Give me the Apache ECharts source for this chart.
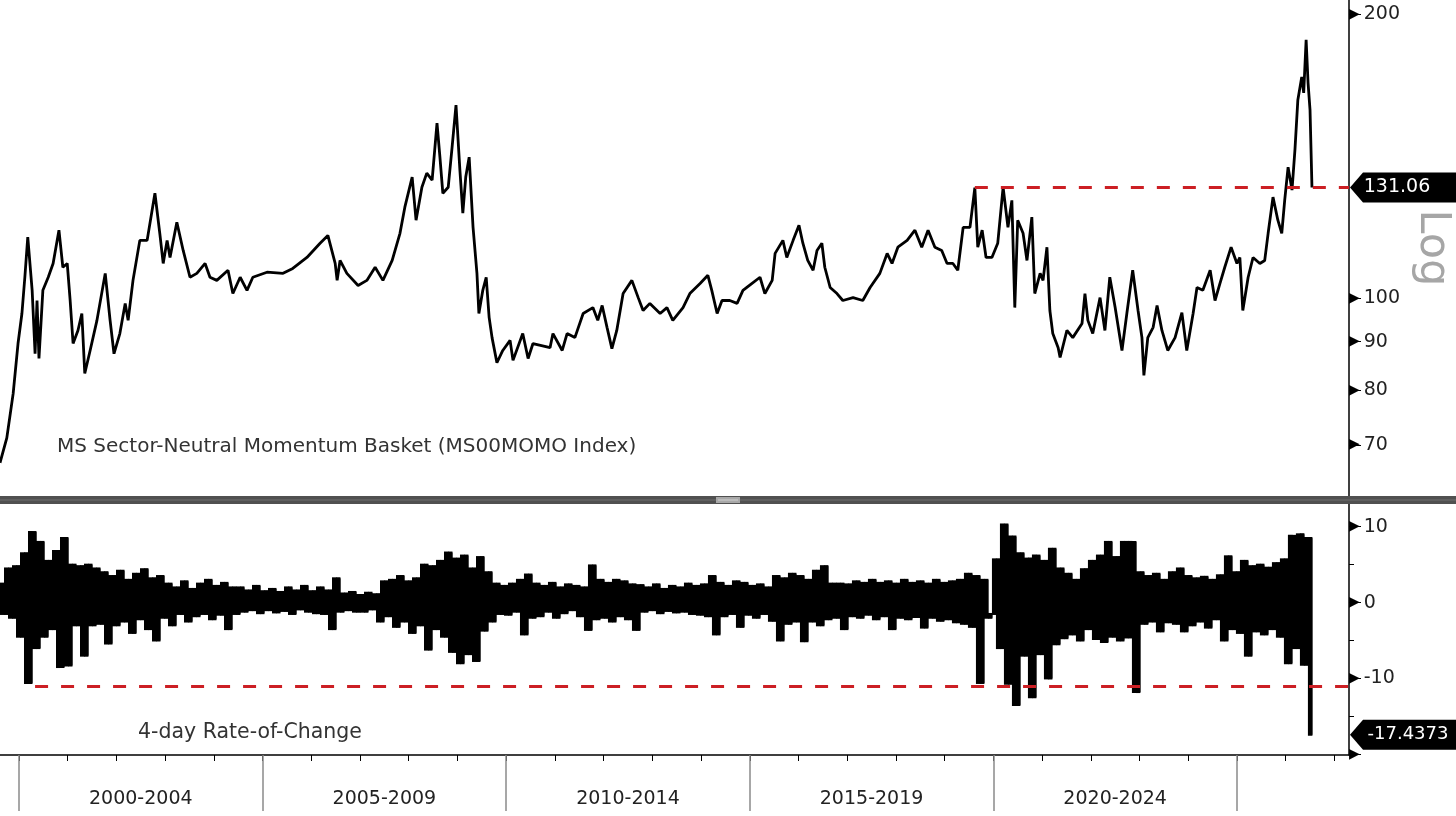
<!DOCTYPE html>
<html>
<head>
<meta charset="utf-8">
<script src="https://cdn.jsdelivr.net/npm/echarts@6/dist/echarts.min.js"></script>
<style>
  html, body { margin: 0; padding: 0; background: #fff; }
  #chart { width: 1456px; height: 816px; }
</style>
</head>
<body>
<div id="chart"></div>
<script>
// MS Sector-Neutral Momentum Basket, level (log scale)
var priceDates = [
    1999.61, 1999.75, 1999.88, 1999.98, 2000.06, 2000.12, 2000.18, 2000.27, 2000.33, 2000.37,
    2000.41, 2000.49, 2000.60, 2000.70, 2000.82, 2000.90, 2000.99, 2001.05, 2001.11, 2001.21,
    2001.29, 2001.35, 2001.46, 2001.60, 2001.77, 2001.87, 2001.95, 2002.07, 2002.18, 2002.24,
    2002.34, 2002.48, 2002.63, 2002.79, 2002.89, 2002.96, 2003.04, 2003.10, 2003.24, 2003.37,
    2003.51, 2003.65, 2003.82, 2003.92, 2004.06, 2004.29, 2004.39, 2004.54, 2004.68, 2004.80,
    2005.09, 2005.42, 2005.62, 2005.91, 2006.18, 2006.34, 2006.49, 2006.53, 2006.59, 2006.73,
    2006.96, 2007.14, 2007.31, 2007.47, 2007.66, 2007.82, 2007.92, 2008.07, 2008.15, 2008.27,
    2008.37, 2008.48, 2008.58, 2008.64, 2008.70, 2008.81, 2008.89, 2008.97, 2009.05, 2009.11,
    2009.17, 2009.24, 2009.32, 2009.40, 2009.44, 2009.52, 2009.59, 2009.65, 2009.71, 2009.81,
    2009.93, 2010.08, 2010.14, 2010.34, 2010.45, 2010.55, 2010.90, 2010.96, 2011.15, 2011.25,
    2011.41, 2011.58, 2011.78, 2011.88, 2011.97, 2012.07, 2012.17, 2012.27, 2012.40, 2012.58,
    2012.71, 2012.81, 2012.95, 2013.16, 2013.30, 2013.42, 2013.63, 2013.77, 2013.98, 2014.14,
    2014.22, 2014.33, 2014.43, 2014.59, 2014.74, 2014.86, 2015.04, 2015.21, 2015.31, 2015.46,
    2015.52, 2015.68, 2015.76, 2015.89, 2016.01, 2016.09, 2016.19, 2016.30, 2016.38, 2016.48,
    2016.54, 2016.65, 2016.79, 2016.91, 2017.12, 2017.32, 2017.47, 2017.67, 2017.82, 2017.92,
    2018.04, 2018.23, 2018.39, 2018.53, 2018.66, 2018.80, 2018.94, 2019.05, 2019.17, 2019.27,
    2019.38, 2019.52, 2019.62, 2019.68, 2019.77, 2019.85, 2019.97, 2020.09, 2020.20, 2020.30,
    2020.38, 2020.44, 2020.50, 2020.61, 2020.69, 2020.79, 2020.85, 2020.96, 2021.02, 2021.10,
    2021.16, 2021.22, 2021.33, 2021.37, 2021.51, 2021.63, 2021.82, 2021.88, 2021.94, 2022.04,
    2022.19, 2022.29, 2022.39, 2022.50, 2022.64, 2022.74, 2022.86, 2022.97, 2023.05, 2023.09,
    2023.17, 2023.28, 2023.36, 2023.46, 2023.58, 2023.73, 2023.87, 2023.97, 2024.10, 2024.18,
    2024.30, 2024.45, 2024.55, 2024.65, 2024.75, 2024.88, 2025.00, 2025.06, 2025.12, 2025.23,
    2025.33, 2025.47, 2025.57, 2025.64, 2025.74, 2025.84, 2025.92, 2025.98, 2026.05, 2026.13,
    2026.19, 2026.25, 2026.33, 2026.37, 2026.42, 2026.46, 2026.50, 2026.54
];
var priceValues = [
    67.0, 71.2, 79.3, 89.6, 96.4, 105.3, 116.1, 102.0, 87.4, 99.5,
    86.4, 102.0, 105.3, 108.9, 118.1, 107.9, 108.9, 99.5, 89.6, 92.5,
    96.4, 83.3, 88.1, 94.8, 106.3, 94.8, 87.4, 91.8, 98.8, 94.8,
    104.5, 115.2, 115.2, 129.2, 117.2, 108.9, 115.2, 110.5, 120.4, 112.4,
    105.3, 106.3, 108.9, 105.3, 104.5, 107.1, 101.2, 105.3, 102.0, 105.3,
    106.6, 106.3, 107.6, 110.5, 114.4, 116.6, 108.9, 104.5, 109.7, 106.3,
    103.2, 104.5, 107.9, 104.5, 109.7, 117.2, 124.9, 134.4, 121.0, 131.1,
    135.7, 133.4, 153.3, 141.1, 129.2, 131.1, 144.6, 160.2, 136.7, 123.1,
    134.4, 141.1, 118.9, 106.3, 96.4, 102.0, 105.3, 95.5, 90.9, 85.5,
    88.1, 90.3, 86.0, 91.8, 86.4, 89.6, 88.7, 91.8, 88.1, 91.8,
    90.9, 96.4, 97.8, 94.8, 98.3, 93.2, 88.5, 92.5, 101.2, 104.5,
    100.2, 97.1, 98.8, 96.4, 97.8, 94.8, 97.8, 101.2, 103.7, 105.8,
    102.0, 96.4, 99.5, 99.5, 98.8, 102.0, 103.7, 105.3, 101.2, 104.5,
    111.6, 115.2, 110.5, 115.2, 119.5, 114.4, 109.7, 107.1, 112.4, 114.4,
    107.9, 102.7, 101.2, 99.5, 100.2, 99.5, 102.7, 106.3, 111.6, 108.9,
    113.3, 115.2, 118.1, 113.3, 118.1, 113.3, 112.4, 108.9, 108.9, 107.1,
    118.9, 118.9, 131.0, 113.3, 118.1, 110.5, 110.5, 114.4, 131.1, 118.9,
    127.0, 97.8, 121.0, 117.2, 109.7, 121.9, 101.2, 106.3, 104.5, 113.3,
    97.1, 91.8, 88.7, 86.6, 92.5, 90.9, 94.1, 101.2, 94.8, 91.8,
    100.2, 92.5, 105.3, 97.8, 88.1, 96.4, 107.1, 97.1, 90.9, 82.9,
    90.9, 93.2, 98.3, 92.5, 88.1, 90.9, 96.6, 88.1, 96.4, 102.7,
    102.0, 107.1, 99.5, 103.7, 107.9, 113.3, 108.9, 110.5, 97.1, 105.3,
    110.5, 108.9, 109.7, 117.2, 128.0, 121.0, 117.2, 127.0, 137.7, 130.2,
    143.5, 162.2, 171.5, 165.0, 187.8, 169.0, 158.3, 131.06
];

// 4-day rate of change, one reading every ~0.08 years
var rocStart = 1999.61;
var rocStep = 0.0821;
var rocValues = [
    2.5, -1.5, 4.5, -2.0, 4.8, -4.5, 6.5, -10.6, 9.3, -6.0,
    8.0, -4.5, 5.5, -3.5, 6.8, -8.5, 8.5, -8.3, 5.0, -3.0,
    4.8, -7.0, 5.0, -3.0, 4.5, -2.8, 4.0, -5.4, 3.5, -3.0,
    4.2, -2.5, 3.0, -4.0, 3.8, -2.2, 4.4, -3.5, 3.2, -5.0,
    3.5, -2.0, 2.5, -3.0, 2.0, -1.5, 2.8, -2.5, 1.8, -1.8,
    2.5, -1.5, 3.0, -2.2, 2.2, -1.6, 2.6, -3.5, 2.0, -1.5,
    2.0, -1.2, 1.6, -1.0, 2.2, -1.4, 1.5, -1.0, 1.8, -1.3,
    1.4, -1.1, 2.0, -1.5, 1.6, -0.9, 2.2, -1.2, 1.5, -1.4,
    2.0, -1.5, 1.6, -3.5, 3.2, -1.2, 1.2, -1.0, 1.4, -1.2,
    1.0, -1.2, 1.3, -0.9, 1.1, -2.5, 2.8, -1.8, 3.0, -3.2,
    3.5, -2.5, 2.8, -4.0, 3.2, -3.0, 5.0, -6.2, 4.8, -3.5,
    5.5, -4.5, 6.6, -6.5, 5.8, -8.0, 6.2, -6.8, 4.5, -7.7,
    6.0, -3.7, 4.0, -2.5, 2.5, -1.5, 2.2, -1.6, 2.5, -1.2,
    3.0, -4.2, 3.7, -2.0, 2.5, -1.8, 2.2, -1.2, 2.6, -2.0,
    2.0, -1.4, 2.4, -1.0, 2.2, -1.8, 2.0, -3.6, 4.9, -2.2,
    3.0, -2.0, 2.6, -2.5, 3.0, -1.8, 2.8, -2.2, 2.4, -3.6,
    2.3, -1.2, 2.0, -1.0, 2.4, -1.4, 1.8, -1.1, 2.2, -1.3,
    2.0, -1.2, 2.5, -1.5, 2.2, -1.6, 2.4, -1.8, 3.5, -4.2,
    2.6, -1.8, 2.2, -1.5, 2.8, -3.2, 2.6, -1.6, 2.2, -2.0,
    2.4, -1.5, 2.0, -2.4, 3.5, -5.0, 3.2, -2.8, 3.8, -2.5,
    3.5, -5.1, 3.0, -2.5, 4.2, -3.0, 4.8, -2.2, 2.5, -2.0,
    2.5, -3.5, 2.4, -1.8, 2.8, -2.0, 2.6, -1.6, 3.0, -2.2,
    2.6, -1.8, 2.8, -3.5, 2.5, -2.0, 3.0, -2.2, 2.6, -1.9,
    2.8, -3.3, 2.5, -2.0, 3.0, -2.4, 2.6, -2.2, 2.8, -2.6,
    3.0, -2.8, 3.8, -3.2, 3.5, -10.6, 3.0, -2.0, -1.5, 5.7,
    -6.0, 10.3, -10.7, 8.7, -13.5, 6.5, -7.0, 5.8, -12.5, 6.2,
    -6.8, 5.5, -10.0, 7.1, -5.5, 4.5, -4.7, 3.8, -4.2, 3.0,
    -5.0, 4.4, -3.5, 5.5, -4.8, 6.2, -5.2, 8.0, -4.5, 6.0,
    -5.0, 8.0, -4.6, 8.0, -11.8, 4.0, -2.8, 3.5, -2.5, 3.8,
    -3.8, 3.0, -2.6, 4.0, -2.8, 4.5, -3.8, 3.5, -3.0, 3.2,
    -2.5, 3.4, -3.3, 3.0, -2.2, 3.6, -5.0, 6.1, -3.5, 4.0,
    -4.0, 5.5, -7.0, 4.8, -3.8, 5.0, -4.2, 4.6, -3.5, 5.2,
    -4.5, 5.7, -8.0, 8.8, -6.0, 9.0, -8.2, 8.5, -17.4373
];

// reference lines and last values
var priceLevel = 131.06, priceLevelFrom = 2019.62;
var rocLevel = -11.0, rocLevelFrom = 2000.33;
var rocLast = -17.4373;

// axes
var xMin = 1999.61, xMax = 2027.30;
var yearTicks = [2000, 2001, 2002, 2003, 2004, 2005, 2006, 2007, 2008, 2009, 2010, 2011, 2012, 2013,
                 2014, 2015, 2016, 2017, 2018, 2019, 2020, 2021, 2022, 2023, 2024, 2025, 2026, 2027];
var periodBreaks = [2000, 2005, 2010, 2015, 2020, 2025];
var periodCenters = [2002.5, 2007.5, 2012.5, 2017.5, 2022.5];
var periodLabels = ['2000-2004', '2005-2009', '2010-2014', '2015-2019', '2020-2024'];
var priceTicks = [200, 100, 90, 80, 70];
var rocTicks = [10, 0, -10, -20];
var rocMinorTicks = [5, -5, -15];

var FONT = 'DejaVu Sans';
var RED = '#cc1f24';

var pricePoints = [];
for (var i = 0; i < priceDates.length; i++) {
    pricePoints.push([priceDates[i], priceValues[i]]);
}
var rocPoints = [];
for (var j = 0; j < rocValues.length; j++) {
    rocPoints.push([+(rocStart + j * rocStep).toFixed(4), rocValues[j]]);
}
// span the line covers between one reading and the next: [date, low, high]
var rocSpans = [];
for (var s = 0; s < rocPoints.length - 1; s++) {
    var a = rocPoints[s][1], b = rocPoints[s + 1][1];
    rocSpans.push([rocPoints[s][0], Math.min(a, b), Math.max(a, b)]);
}

var tickRich = {
    t: {fontSize: 14, color: '#000', fontFamily: FONT, padding: [0, 4, 0, 0]},
    n: {fontSize: 19, color: '#222', fontFamily: FONT}
};

function tagSymbol() {
    return 'path://M0,15 L13,0 L106,0 L106,30 L13,30 Z';
}

var chart = echarts.init(document.getElementById('chart'), null, {renderer: 'canvas'});
chart.setOption({
    animation: false,
    backgroundColor: '#fff',
    textStyle: {fontFamily: FONT},
    title: [
        {
            text: 'MS Sector-Neutral Momentum Basket (MS00MOMO Index)',
            left: 57, top: 437, padding: 0,
            textStyle: {fontSize: 20, fontWeight: 'normal', color: '#333', fontFamily: FONT}
        },
        {
            text: '4-day Rate-of-Change',
            left: 138, top: 722, padding: 0,
            textStyle: {fontSize: 20.5, fontWeight: 'normal', color: '#333', fontFamily: FONT}
        }
    ],
    grid: [
        {left: 0, right: 107, top: 0, height: 496, outerBoundsMode: 'none', containLabel: false},
        {left: 0, right: 107, top: 504, height: 251, outerBoundsMode: 'none', containLabel: false}
    ],
    xAxis: [
        {gridIndex: 0, type: 'value', min: xMin, max: xMax, show: false},
        {
            gridIndex: 1, type: 'value', min: xMin, max: xMax, position: 'bottom',
            axisLine: {show: true, onZero: false, lineStyle: {color: '#000', width: 1.5}},
            axisTick: {show: true, customValues: yearTicks, length: 6, lineStyle: {color: '#000', width: 1}},
            axisLabel: {show: false},
            splitLine: {show: false}
        },
        {
            gridIndex: 1, type: 'value', min: xMin, max: xMax, position: 'bottom',
            axisLine: {show: false, onZero: false},
            axisTick: {show: true, customValues: periodBreaks, length: 56, lineStyle: {color: '#8a8a8a', width: 1.5}},
            axisLabel: {
                show: true, customValues: periodCenters, margin: 35,
                fontSize: 19, color: '#222', fontFamily: FONT,
                formatter: function (v) {
                    for (var k = 0; k < periodCenters.length; k++) {
                        if (Math.abs(periodCenters[k] - v) < 0.01) return periodLabels[k];
                    }
                    return '';
                }
            },
            splitLine: {show: false}
        }
    ],
    yAxis: [
        {
            gridIndex: 0, type: 'log', logBase: 10, min: 61.8, max: 206.9, position: 'right',
            axisLine: {show: true, onZero: false, lineStyle: {color: '#000', width: 1.5}},
            axisTick: {show: true, customValues: priceTicks, length: 12, lineStyle: {color: '#000', width: 1}},
            axisLabel: {
                show: true, customValues: priceTicks, margin: 0,
                formatter: function (v) { return '{t|\u25B6}{n|' + Math.round(v) + '}'; },
                rich: tickRich
            },
            splitLine: {show: false},
            name: 'Log', nameLocation: 'middle', nameRotate: -90, nameGap: 50,
            nameTextStyle: {fontSize: 43, color: '#a6a6a6', fontFamily: FONT}
        },
        {
            gridIndex: 1, type: 'value', min: -20.1, max: 13, position: 'right',
            axisLine: {show: true, onZero: false, lineStyle: {color: '#000', width: 1.5}},
            axisTick: {show: true, customValues: rocTicks, length: 12, lineStyle: {color: '#000', width: 1}},
            axisLabel: {
                show: true, customValues: rocTicks, margin: 0,
                formatter: function (v) {
                    v = Math.round(v);
                    return v === -20 ? '{t|\u25B6}' : '{t|\u25B6}{n|' + v + '}';
                },
                rich: tickRich
            },
            splitLine: {show: false}
        },
        {
            gridIndex: 1, type: 'value', min: -20.1, max: 13, position: 'right',
            axisLine: {show: false, onZero: false},
            axisTick: {show: true, customValues: rocMinorTicks, length: 5, lineStyle: {color: '#000', width: 1}},
            axisLabel: {show: false},
            splitLine: {show: false}
        }
    ],
    graphic: [
        // panel divider bar with its grip
        {type: 'rect', silent: true, z: 100, shape: {x: 0, y: 496, width: 1456, height: 8}, style: {fill: '#505050'}},
        {type: 'line', silent: true, z: 101, shape: {x1: 0, y1: 500, x2: 1456, y2: 500}, style: {stroke: '#6e6e6e', lineWidth: 1}},
        {type: 'rect', silent: true, z: 102, shape: {x: 716, y: 497, width: 24, height: 6}, style: {fill: '#a8a8a8'}},
        {type: 'line', silent: true, z: 103, shape: {x1: 718, y1: 500, x2: 738, y2: 500}, style: {stroke: '#d0d0d0', lineWidth: 1}}
    ],
    series: [
        {
            type: 'line', xAxisIndex: 0, yAxisIndex: 0, silent: true,
            data: pricePoints, showSymbol: false,
            lineStyle: {color: '#000', width: 2.8}, z: 3,
            markLine: {
                silent: true, symbol: 'none', label: {show: false},
                lineStyle: {color: RED, type: [13, 13], width: 3},
                data: [[{coord: [priceLevelFrom, priceLevel]}, {coord: [xMax, priceLevel]}]]
            },
            markPoint: {
                silent: true,
                data: [{
                    coord: [xMax, priceLevel], symbol: tagSymbol(), symbolSize: [106, 30], symbolOffset: [54, 0],
                    itemStyle: {color: '#000'},
                    label: {show: true, position: 'inside', offset: [-6, 0], color: '#fff', fontSize: 19, fontFamily: FONT,
                        formatter: function () { return priceLevel.toFixed(2); }}
                }]
            }
        },
        {
            // filled band the rate-of-change line sweeps between readings
            type: 'custom', xAxisIndex: 1, yAxisIndex: 1, silent: true, z: 2, clip: true,
            data: rocSpans,
            encode: {x: 0, y: [1, 2]},
            renderItem: function (params, api) {
                var lo = api.coord([api.value(0), api.value(1)]);
                var hi = api.coord([api.value(0), api.value(2)]);
                var w = api.size([rocStep, 0])[0];
                return {
                    type: 'rect',
                    shape: {x: lo[0], y: hi[1] - 1, width: w + 0.5, height: lo[1] - hi[1] + 2},
                    style: {fill: '#000'}
                };
            }
        },
        {
            type: 'line', xAxisIndex: 1, yAxisIndex: 1, silent: true,
            data: rocPoints, showSymbol: false, step: 'end',
            lineStyle: {color: '#000', width: 1}, z: 3,
            markLine: {
                silent: true, symbol: 'none', label: {show: false},
                lineStyle: {color: RED, type: [13, 13], width: 3},
                data: [[{coord: [rocLevelFrom, rocLevel]}, {coord: [xMax, rocLevel]}]]
            },
            markPoint: {
                silent: true,
                data: [{
                    coord: [xMax, rocLast], symbol: tagSymbol(), symbolSize: [106, 30], symbolOffset: [54, 0],
                    itemStyle: {color: '#000'},
                    label: {show: true, position: 'inside', offset: [5, 0], color: '#fff', fontSize: 18, fontFamily: FONT,
                        formatter: function () { return String(rocLast); }}
                }]
            }
        }
    ]
});
</script>
</body>
</html>
